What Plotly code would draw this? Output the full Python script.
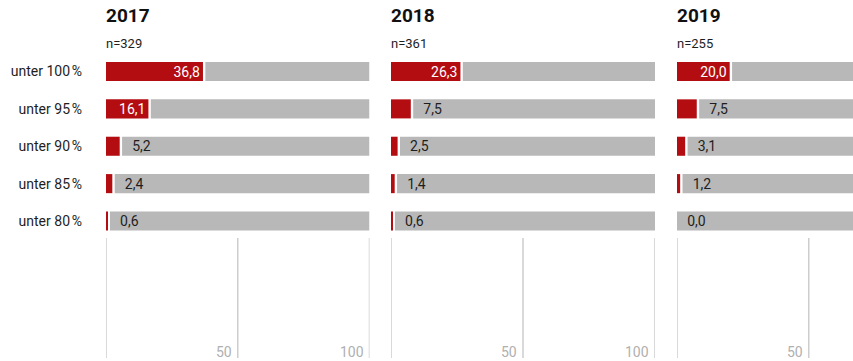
import plotly.graph_objects as go

years = ["2017", "2018", "2019"]
sample_sizes = ["n=329", "n=361", "n=255"]
categories = ["unter 100\u202f%", "unter 95\u202f%", "unter 90\u202f%", "unter 85\u202f%", "unter 80\u202f%"]
values_2017 = [36.8, 16.1, 5.2, 2.4, 0.6]
values_2018 = [26.3, 7.5, 2.5, 1.4, 0.6]
values_2019 = [20.0, 7.5, 3.1, 1.2, 0.0]
panel_values = [values_2017, values_2018, values_2019]
grid_ticks = [0, 50, 100]
tick_vals = [50, 100]
tick_text = ["50", "100"]

W, H = 853, 361
RED = "#b30d12"
GRAY = "#b8b8b8"
GRID = "#cdcdcd"
TXT = "#1e1e1e"
FONT = "Roboto"
GAP = 0.9
INSIDE_MIN = 15

domains = [[106 / W, 369.5 / W], [391 / W, 655 / W], [677 / W, 1.0]]
px_per_unit = 2.635
ranges = [[0, 100], [0, 100], [0, (W - 677) / px_per_unit]]

row0, row_step = 71.5, 37.375
y_range = [(H - row0) / row_step, -row0 / row_step]


def fmt(v):
    return f"{v:.1f}".replace(".", ",")


fig = go.Figure()
shapes = []
annotations = []
for i, vals in enumerate(panel_values):
    n = i + 1
    xa = "x" if n == 1 else f"x{n}"
    ya = "y" if n == 1 else f"y{n}"
    red_text = [fmt(v) if v >= INSIDE_MIN else "" for v in vals]
    gray_text = ["\u2002" + fmt(v) if v < INSIDE_MIN else "" for v in vals]
    gray_base = [v + GAP if v > 0 else 0 for v in vals]
    fig.add_trace(go.Bar(
        y=categories, x=vals, base=[0] * len(vals), orientation="h",
        marker=dict(color=RED, line=dict(width=0)), width=0.51,
        text=red_text, textposition="inside", insidetextanchor="end",
        constraintext="none",
        textangle=0, textfont=dict(color="white", size=14, family=FONT),
        xaxis=xa, yaxis=ya, showlegend=False, hoverinfo="skip",
    ))
    fig.add_trace(go.Bar(
        y=categories, x=[100 - b for b in gray_base], base=gray_base, orientation="h",
        marker=dict(color=GRAY, line=dict(width=0)), width=0.51,
        text=gray_text, textposition="inside", insidetextanchor="start",
        constraintext="none",
        textangle=0, textfont=dict(color=TXT, size=14, family=FONT),
        xaxis=xa, yaxis=ya, showlegend=False, hoverinfo="skip",
    ))
    xkey = "xaxis" if n == 1 else f"xaxis{n}"
    ykey = "yaxis" if n == 1 else f"yaxis{n}"
    fig.update_layout(**{
        xkey: dict(domain=domains[i], range=ranges[i], anchor=ya,
                   showticklabels=False, ticks="",
                   showgrid=False, zeroline=False, showline=False),
        ykey: dict(domain=[0, 1], anchor=xa, type="category",
                   categoryorder="array", categoryarray=categories,
                   range=y_range, showgrid=False, zeroline=False, showline=False,
                   ticks="", showticklabels=(n == 1), ticklabelstandoff=23,
                   tickfont=dict(size=14, color=TXT, family=FONT)),
    })
    for t in grid_ticks:
        shapes.append(dict(type="line", xref=xa, yref="paper", x0=t, x1=t,
                           y0=3 / H, y1=123 / H, line=dict(color=GRID, width=1.5)))
    for tv, tt in zip(tick_vals, tick_text):
        if tv <= ranges[i][1]:
            annotations.append(dict(text=tt, xref=xa, yref="paper", x=tv, y=9 / H,
                                    xanchor="right", yanchor="middle", xshift=-4,
                                    showarrow=False,
                                    font=dict(size=14, color="#b0b0b0", family=FONT)))
    annotations.append(dict(text=f"<b>{years[i]}</b>", xref=f"{xa} domain", yref="paper",
                            x=0, y=1 - 15 / H, xanchor="left", yanchor="middle",
                            xshift=-2,
                            showarrow=False, font=dict(size=19, color="#111", family=FONT)))
    annotations.append(dict(text=sample_sizes[i], xref=f"{xa} domain", yref="paper",
                            x=0, y=1 - 44 / H, xanchor="left", yanchor="middle",
                            xshift=-2,
                            showarrow=False, font=dict(size=13, color=TXT, family=FONT)))

fig.update_layout(
    width=W, height=H, margin=dict(l=0, r=0, t=0, b=0),
    barmode="overlay", paper_bgcolor="white", plot_bgcolor="white",
    shapes=shapes, annotations=annotations,
    font=dict(family=FONT, color=TXT),
)
fig.write_html("out.html")
